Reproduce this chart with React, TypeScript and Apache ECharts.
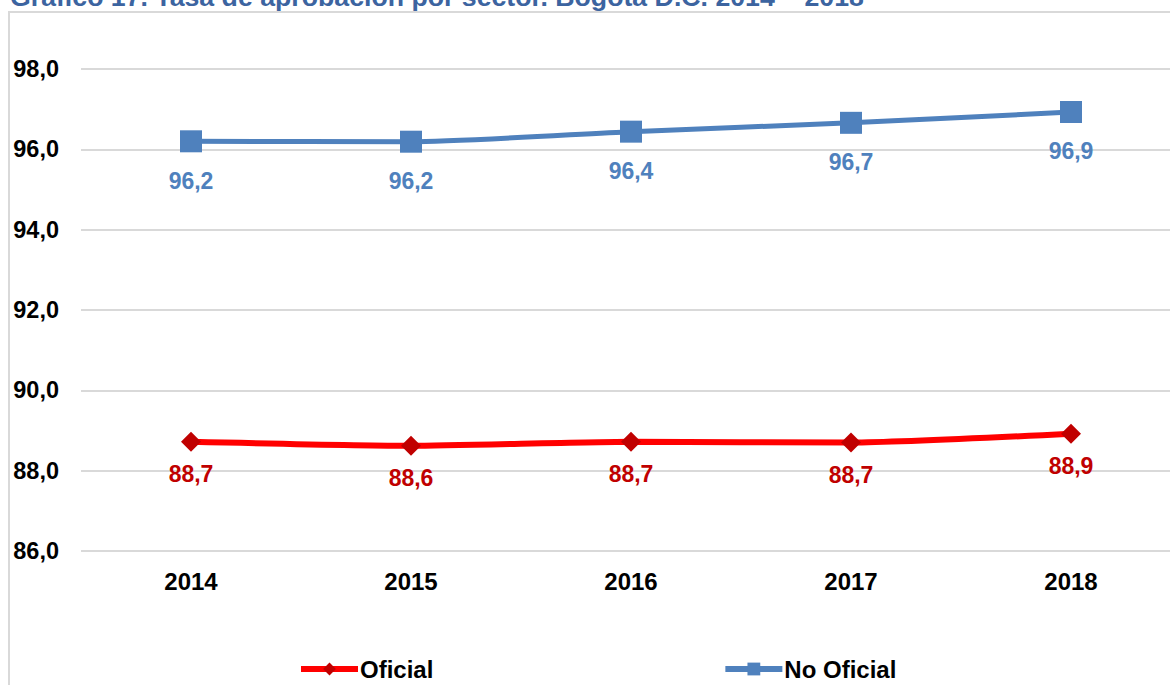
import React, { useEffect, useRef } from "react";
import * as echarts from "echarts";

const years = ["2014", "2015", "2016", "2017", "2018"];
const oficial = [88.72, 88.62, 88.72, 88.7, 88.92];
const noOficial = [96.2, 96.19, 96.44, 96.66, 96.93];
const titleText = "Gráfico 17. Tasa de aprobación por sector. Bogotá D.C. 2014 – 2018";

const fmt = (v: number) => v.toFixed(1).replace(".", ",");
const FONT = "'Liberation Sans', Arial, sans-serif";

export default function App() {
  const ref = useRef<HTMLDivElement>(null);
  useEffect(() => {
    if (!ref.current) return;
    const chart = echarts.init(ref.current, null, { renderer: "svg" });
    chart.setOption({
      animation: false,
      backgroundColor: "#ffffff",
      textStyle: { fontFamily: FONT },
      graphic: [
        {
          type: "rect",
          shape: { x: 9, y: 12, width: 1300, height: 800 },
          style: { fill: "none", stroke: "#d9d9d9", lineWidth: 2 },
          silent: true,
        },
        {
          type: "text",
          x: 10,
          y: 10,
          style: {
            text: titleText,
            fill: "#3c64a0",
            font: `bold 26.7px ${FONT}`,
            textVerticalAlign: "bottom",
          },
        },
      ],
      grid: { left: 81, width: 1100, top: 69, bottom: 134 },
      xAxis: {
        type: "category",
        data: years,
        boundaryGap: true,
        axisLine: { show: false },
        axisTick: { show: false },
        axisLabel: { color: "#000", fontWeight: "bold", fontSize: 24, margin: 18, fontFamily: FONT },
      },
      yAxis: {
        type: "value",
        min: 86,
        max: 98,
        interval: 2,
        axisLine: { show: false },
        axisTick: { show: false },
        splitLine: { lineStyle: { color: "#d9d9d9", width: 2 } },
        axisLabel: {
          color: "#000",
          fontWeight: "bold",
          fontSize: 23.5,
          margin: 22,
          fontFamily: FONT,
          formatter: (v: number) => fmt(v),
        },
      },
      legend: {
        data: [
          { name: "Oficial", lineStyle: { width: 6 } },
          { name: "No Oficial", lineStyle: { width: 6 } },
        ],
        left: 293,
        top: 652,
        itemWidth: 57,
        itemHeight: 16,
        itemGap: 289,
        textStyle: { color: "#000", fontWeight: "bold", fontSize: 24, fontFamily: FONT, padding: [0, 0, 0, -3] },
      },
      series: [
        {
          name: "Oficial",
          type: "line",
          data: oficial,
          smooth: 0.2,
          symbol: "diamond",
          symbolSize: 20,
          lineStyle: { color: "#ff0000", width: 6 },
          itemStyle: { color: "#c00000" },
          label: {
            show: true,
            position: "bottom",
            distance: 11,
            color: "#c00000",
            fontWeight: "bold",
            fontSize: 23,
            fontFamily: FONT,
            formatter: (p: any) => fmt(p.value),
          },
        },
        {
          name: "No Oficial",
          type: "line",
          data: noOficial,
          smooth: 0.2,
          symbol: "rect",
          symbolSize: 22,
          lineStyle: { color: "#4f81bd", width: 5 },
          itemStyle: { color: "#4f81bd" },
          label: {
            show: true,
            position: "bottom",
            distance: 17,
            color: "#4f81bd",
            fontWeight: "bold",
            fontSize: 23,
            fontFamily: FONT,
            formatter: (p: any) => fmt(p.value),
          },
        },
      ],
    });
    return () => chart.dispose();
  }, []);
  return (
    <div style={{ position: "absolute", left: 0, top: 0, width: 1170, height: 685, overflow: "hidden" }}>
      <div ref={ref} style={{ width: 1200, height: 685 }} />
    </div>
  );
}
